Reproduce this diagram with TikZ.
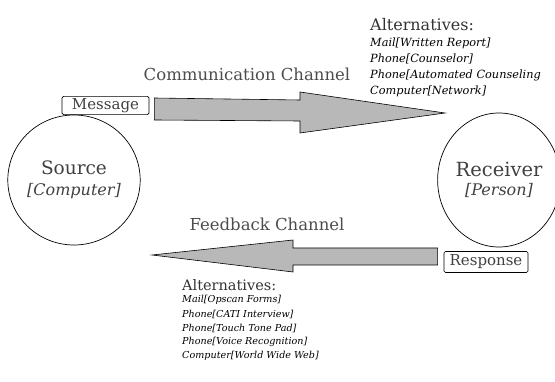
\documentclass[tikz,border=0pt]{standalone}
\usepackage{fontspec}
\setmainfont{DejaVu Serif}
\usetikzlibrary{shapes.geometric}
\tikzset{
  party/.style={ellipse, draw, line width=0.7pt, minimum width=122pt,
    minimum height=130pt, align=center, inner sep=0pt, text=black!75},
  tagbox/.style={draw, rounded corners=1.5pt, line width=0.7pt,
    minimum height=18pt, inner sep=2pt, text=black!75,
    font=\fontsize{15}{15}\selectfont},
  chanlabel/.style={inner sep=0pt, text=black!70,
    font=\fontsize{16.5}{16.5}\selectfont},
  althead/.style={anchor=west, inner sep=0pt, text=black!80},
  altitem/.style={anchor=west, inner sep=0pt, text=black},
  blockarrow/.style={draw, line width=0.6pt, fill=black!28, line join=miter},
}
\begin{document}
\begin{tikzpicture}[x=1pt,y=-1pt]
\useasboundingbox (0,0) rectangle (555,382);
\clip (0,0) rectangle (555,382);

% the two parties
\node[party] (src) at (74,180)
  {{\fontsize{18.5}{20}\selectfont Source}\\[8pt]{\fontsize{16}{18}\selectfont\itshape [Computer]}};
\node[party, minimum height=134pt] (rcv) at (499,180)
  {{\fontsize{19.5}{21}\selectfont Receiver}\\[6pt]{\fontsize{16}{18}\selectfont\itshape [Person]}};

% message and response tags
\node[tagbox, minimum width=87pt] (msg) at (105.5,105.5) {Message};
\node[tagbox, minimum width=84pt, minimum height=21pt] (resp) at (486,262) {Response};

% forward channel: block arrow from the message tag to the receiver
\coordinate (ctail) at ([xshift=5pt]msg.east);
\coordinate (ctip) at (445,113);
\draw[blockarrow] (ctail |- 0,98) -- (300,100) -- (300,92) -- (ctip)
  -- (300,133) -- (300,121) -- (ctail |- 0,120) -- cycle;
\node[chanlabel] (comm) at (247,74) {Communication Channel};

% feedback channel: block arrow from the response tag back to the source
\coordinate (ftail) at ([xshift=-6pt]resp.west);
\coordinate (ftip) at (152,255);
\draw[blockarrow] (ftip) -- (293,240) -- (293,248) -- (ftail |- 0,248)
  -- (ftail |- 0,265) -- (293,265) -- (293,272) -- cycle;
\node[chanlabel] (fb) at (267,224) {Feedback Channel};

% alternatives for the forward channel
\begin{scope}[every node/.append style={font=\fontsize{11.3}{11.3}\selectfont\itshape}]
\node[althead, font=\fontsize{16}{16}\selectfont] (ahead1) at (370,25) {Alternatives:};
\node[altitem] (a1) at (370,43) {Mail[Written Report]};
\node[altitem] (a2) at (370,59) {Phone[Counselor]};
\node[altitem] (a3) at (370,75) {Phone[Automated Counseling};
\node[altitem] (a4) at (370,91) {Computer[Network]};
\end{scope}

% alternatives for the feedback channel
\begin{scope}[every node/.append style={font=\fontsize{9.6}{9.6}\selectfont\itshape}]
\node[althead, font=\fontsize{14.5}{14.5}\selectfont] (ahead2) at (182,285) {Alternatives:};
\node[altitem] (b1) at (182,300) {Mail[Opscan Forms]};
\node[altitem] (b2) at (182,314) {Phone[CATI Interview]};
\node[altitem] (b3) at (182,328) {Phone[Touch Tone Pad]};
\node[altitem] (b4) at (182,342) {Phone[Voice Recognition]};
\node[altitem] (b5) at (182,356) {Computer[World Wide Web]};
\end{scope}
\end{tikzpicture}
\end{document}
